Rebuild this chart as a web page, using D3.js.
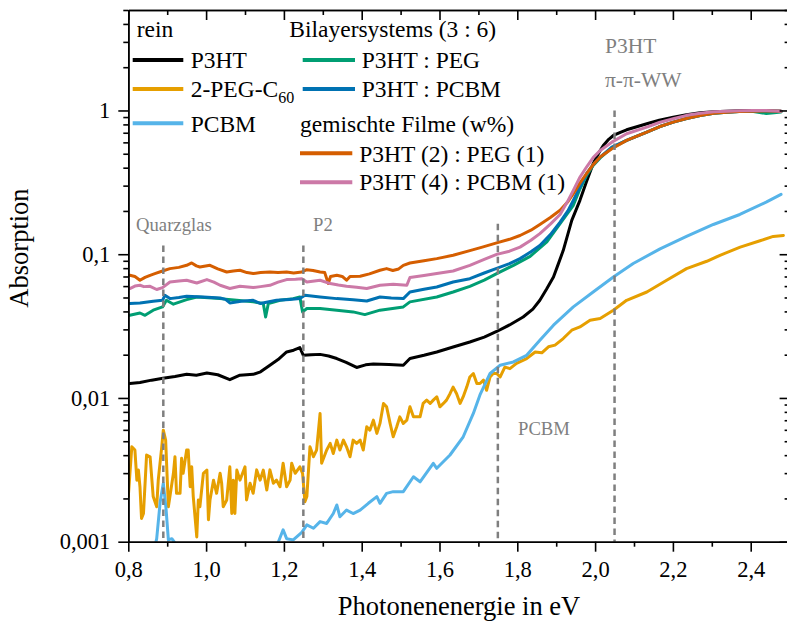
<!DOCTYPE html>
<html><head><meta charset="utf-8">
<script src="https://cdn.jsdelivr.net/npm/d3@7"></script>
<style>
body{margin:0;background:#fff}
svg text{font-family:"Liberation Serif","DejaVu Serif","Times New Roman",Times,serif !important}
</style>
</head><body>
<svg id="chart" width="787" height="626" font-family="Liberation Serif, DejaVu Serif, serif"></svg>
<script>
// ---------- data ----------
const xTickValues = [0.8,1.0,1.2,1.4,1.6,1.8,2.0,2.2,2.4];
const xTickLabels = ["0,8","1,0","1,2","1,4","1,6","1,8","2,0","2,2","2,4"];
const yTickValues = [1,0.1,0.01,0.001];
const yTickLabels = ["1","0,1","0,01","0,001"];

const p3ht = [[0.804,0.0126],[0.830,0.0128],[0.860,0.0133],[0.889,0.0137],[0.920,0.0141],[0.950,0.0146],[0.975,0.0144],[1.002,0.0149],[1.030,0.0145],[1.061,0.0134],[1.087,0.0144],[1.121,0.0146],[1.140,0.0152],[1.164,0.0169],[1.185,0.0185],[1.207,0.0209],[1.225,0.0215],[1.241,0.0224],[1.250,0.0198],[1.270,0.0200],[1.293,0.0201],[1.315,0.0196],[1.336,0.0188],[1.360,0.0177],[1.387,0.0163],[1.410,0.0170],[1.430,0.0172],[1.470,0.0171],[1.507,0.0169],[1.524,0.0188],[1.560,0.0198],[1.593,0.0209],[1.635,0.0226],[1.678,0.0245],[1.715,0.0265],[1.747,0.0290],[1.780,0.0322],[1.815,0.0366],[1.840,0.0415],[1.858,0.0478],[1.875,0.0570],[1.893,0.0695],[1.905,0.0850],[1.918,0.106],[1.930,0.138],[1.940,0.172],[1.961,0.237],[1.978,0.320],[1.995,0.426],[2.010,0.510],[2.021,0.571],[2.035,0.630],[2.047,0.670],[2.065,0.705],[2.081,0.734],[2.105,0.768],[2.133,0.809],[2.165,0.855],[2.201,0.898],[2.235,0.935],[2.270,0.964],[2.305,0.980],[2.338,0.989],[2.370,0.995],[2.407,1.0],[2.440,0.995],[2.478,0.989]];

const pegC60 = [[0.800,0.00206],[0.809,0.00457],[0.817,0.00434],[0.822,0.00268],[0.826,0.00315],[0.830,0.00241],[0.834,0.00145],[0.839,0.00157],[0.847,0.00401],[0.856,0.00390],[0.864,0.00206],[0.873,0.00175],[0.877,0.00268],[0.886,0.00457],[0.890,0.00597],[0.896,0.00509],[0.903,0.00175],[0.907,0.00206],[0.916,0.00299],[0.920,0.00390],[0.924,0.00217],[0.933,0.00217],[0.937,0.00380],[0.941,0.00299],[0.950,0.00434],[0.954,0.00434],[0.959,0.00241],[0.963,0.00332],[0.967,0.00206],[0.976,0.00108],[0.980,0.00195],[0.984,0.00175],[0.993,0.00299],[1.002,0.00315],[1.006,0.00142],[1.010,0.00195],[1.019,0.00268],[1.027,0.00217],[1.036,0.00299],[1.040,0.00255],[1.044,0.00175],[1.053,0.00195],[1.061,0.00332],[1.066,0.00157],[1.070,0.00268],[1.074,0.00157],[1.079,0.00315],[1.087,0.00268],[1.100,0.00332],[1.104,0.00195],[1.113,0.00255],[1.121,0.00217],[1.130,0.00316],[1.139,0.00268],[1.147,0.00315],[1.156,0.00229],[1.164,0.00316],[1.173,0.00255],[1.181,0.00268],[1.190,0.00241],[1.198,0.00351],[1.207,0.00241],[1.216,0.00268],[1.220,0.00351],[1.229,0.00299],[1.241,0.00332],[1.248,0.00299],[1.254,0.00190],[1.259,0.00206],[1.267,0.00457],[1.276,0.00390],[1.284,0.00434],[1.293,0.00780],[1.297,0.00351],[1.310,0.00434],[1.319,0.00483],[1.327,0.00411],[1.336,0.00509],[1.344,0.00434],[1.353,0.00509],[1.361,0.00457],[1.370,0.00390],[1.378,0.00509],[1.387,0.00483],[1.396,0.00509],[1.404,0.00434],[1.413,0.00630],[1.421,0.00597],[1.430,0.00701],[1.439,0.00567],[1.447,0.00665],[1.456,0.00916],[1.464,0.00868],[1.473,0.00665],[1.481,0.00537],[1.490,0.00630],[1.498,0.00739],[1.507,0.00665],[1.516,0.00701],[1.524,0.00868],[1.533,0.00739],[1.550,0.00739],[1.558,0.00916],[1.567,0.00966],[1.576,0.00916],[1.584,0.00966],[1.593,0.0102],[1.601,0.00868],[1.610,0.00916],[1.618,0.00966],[1.627,0.0107],[1.635,0.0119],[1.644,0.0107],[1.653,0.00916],[1.661,0.0102],[1.670,0.0119],[1.678,0.0140],[1.687,0.0148],[1.696,0.0126],[1.704,0.0126],[1.713,0.0133],[1.721,0.0113],[1.730,0.0140],[1.738,0.0148],[1.747,0.0148],[1.756,0.0140],[1.768,0.0164],[1.781,0.0160],[1.798,0.0174],[1.824,0.0188],[1.846,0.0209],[1.863,0.0206],[1.880,0.0227],[1.897,0.0233],[1.918,0.0259],[1.940,0.0296],[1.961,0.0312],[1.987,0.0347],[2.013,0.0357],[2.047,0.0408],[2.081,0.0478],[2.133,0.0546],[2.184,0.0659],[2.235,0.0794],[2.287,0.0893],[2.321,0.0983],[2.373,0.112],[2.424,0.124],[2.458,0.133],[2.484,0.135]];

const pcbmLow = [[0.858,0.0007],[0.873,0.00105],[0.882,0.0019],[0.890,0.00255],[0.897,0.0017],[0.903,0.00103],[0.912,0.00105],[0.920,0.00098],[0.926,0.0008]];
const pcbm = [[1.180,0.0008],[1.186,0.00100],[1.198,0.00121],[1.207,0.00105],[1.224,0.00103],[1.246,0.00116],[1.259,0.00131],[1.276,0.00124],[1.293,0.00138],[1.310,0.00134],[1.327,0.00157],[1.336,0.00180],[1.344,0.00149],[1.361,0.00166],[1.378,0.00157],[1.396,0.00166],[1.417,0.00185],[1.439,0.00206],[1.447,0.00185],[1.464,0.00217],[1.481,0.00223],[1.507,0.00223],[1.533,0.00283],[1.550,0.00261],[1.584,0.00351],[1.593,0.00324],[1.627,0.00401],[1.661,0.00537],[1.687,0.00780],[1.704,0.0105],[1.730,0.0148],[1.756,0.0169],[1.790,0.0178],[1.824,0.0198],[1.858,0.0252],[1.893,0.0321],[1.944,0.0430],[1.995,0.0546],[2.047,0.0695],[2.098,0.0861],[2.167,0.109],[2.235,0.133],[2.304,0.161],[2.372,0.189],[2.441,0.231],[2.478,0.261]];

const bilayerPEG = [[0.804,0.0376],[0.830,0.0390],[0.843,0.0376],[0.864,0.0408],[0.888,0.0430],[0.898,0.0478],[0.916,0.0449],[0.950,0.0483],[0.976,0.0504],[1.036,0.0491],[1.079,0.0478],[1.121,0.0466],[1.147,0.0454],[1.153,0.0366],[1.160,0.0454],[1.190,0.0478],[1.224,0.0491],[1.241,0.0504],[1.248,0.0397],[1.259,0.0419],[1.293,0.0419],[1.336,0.0408],[1.378,0.0397],[1.408,0.0380],[1.447,0.0408],[1.507,0.0430],[1.524,0.0466],[1.593,0.0504],[1.635,0.0546],[1.678,0.0598],[1.715,0.0660],[1.747,0.0733],[1.790,0.0837],[1.833,0.0967],[1.876,0.122],[1.910,0.163],[1.944,0.219],[1.960,0.280],[1.978,0.353],[1.995,0.415],[2.013,0.468],[2.043,0.549],[2.081,0.619],[2.133,0.707],[2.165,0.770],[2.201,0.829],[2.235,0.880],[2.270,0.923],[2.305,0.955],[2.338,0.973],[2.370,0.982],[2.407,0.984],[2.440,0.953],[2.460,0.965],[2.478,0.976]];

const bilayerPCBM = [[0.804,0.0454],[0.830,0.0458],[0.864,0.0471],[0.888,0.0478],[0.894,0.0518],[0.907,0.0491],[0.930,0.0500],[0.950,0.0510],[0.993,0.0504],[1.036,0.0496],[1.050,0.0485],[1.061,0.0458],[1.090,0.0470],[1.121,0.0478],[1.139,0.0454],[1.181,0.0478],[1.215,0.0485],[1.241,0.0491],[1.254,0.0518],[1.293,0.0504],[1.336,0.0491],[1.378,0.0483],[1.413,0.0473],[1.447,0.0504],[1.476,0.0495],[1.507,0.0491],[1.524,0.0546],[1.560,0.0570],[1.593,0.0592],[1.635,0.0641],[1.678,0.0676],[1.715,0.0740],[1.747,0.0798],[1.780,0.0860],[1.807,0.0932],[1.835,0.104],[1.858,0.115],[1.885,0.137],[1.910,0.167],[1.930,0.200],[1.944,0.237],[1.960,0.290],[1.978,0.363],[1.995,0.420],[2.013,0.474],[2.043,0.556],[2.081,0.619],[2.133,0.707],[2.165,0.770],[2.201,0.829],[2.235,0.880],[2.270,0.923],[2.305,0.955],[2.338,0.973],[2.370,0.983],[2.407,0.989],[2.440,0.992],[2.478,0.989]];

const mixPEG = [[0.804,0.0713],[0.817,0.0700],[0.830,0.0659],[0.843,0.0690],[0.856,0.0713],[0.870,0.0735],[0.888,0.0764],[0.907,0.0794],[0.930,0.0810],[0.950,0.0837],[0.963,0.0869],[0.975,0.0830],[0.984,0.0815],[1.010,0.0837],[1.030,0.0790],[1.053,0.0752],[1.070,0.0765],[1.087,0.0773],[1.105,0.0745],[1.121,0.0733],[1.140,0.0745],[1.164,0.0752],[1.185,0.0745],[1.207,0.0752],[1.225,0.0740],[1.246,0.0752],[1.259,0.0781],[1.275,0.0770],[1.293,0.0752],[1.305,0.0745],[1.314,0.0625],[1.320,0.0700],[1.336,0.0713],[1.350,0.0700],[1.361,0.0659],[1.370,0.0700],[1.396,0.0702],[1.420,0.0730],[1.447,0.0773],[1.464,0.0794],[1.480,0.0770],[1.495,0.0790],[1.507,0.0837],[1.524,0.0869],[1.560,0.0900],[1.593,0.0932],[1.635,0.0983],[1.678,0.106],[1.710,0.112],[1.747,0.120],[1.780,0.127],[1.807,0.135],[1.835,0.147],[1.858,0.161],[1.885,0.180],[1.910,0.202],[1.930,0.232],[1.944,0.264],[1.960,0.310],[1.978,0.363],[1.995,0.420],[2.013,0.474],[2.043,0.542],[2.081,0.619],[2.133,0.707],[2.165,0.770],[2.201,0.829],[2.235,0.880],[2.270,0.923],[2.305,0.955],[2.338,0.973],[2.370,0.985],[2.407,0.989],[2.440,0.992],[2.478,0.989]];

const mixPCBM = [[0.804,0.0577],[0.817,0.0600],[0.830,0.0608],[0.840,0.0595],[0.856,0.0598],[0.873,0.0568],[0.888,0.0586],[0.907,0.0641],[0.930,0.0650],[0.950,0.0659],[0.976,0.0631],[1.002,0.0666],[1.020,0.0640],[1.036,0.0608],[1.061,0.0577],[1.087,0.0598],[1.121,0.0586],[1.140,0.0595],[1.164,0.0608],[1.185,0.0640],[1.207,0.0666],[1.230,0.0670],[1.246,0.0676],[1.259,0.0641],[1.293,0.0659],[1.319,0.0625],[1.340,0.0610],[1.361,0.0598],[1.387,0.0590],[1.413,0.0577],[1.447,0.0608],[1.481,0.0618],[1.516,0.0608],[1.524,0.0688],[1.560,0.0710],[1.593,0.0733],[1.635,0.0764],[1.678,0.0837],[1.715,0.0920],[1.747,0.0998],[1.780,0.105],[1.807,0.112],[1.835,0.125],[1.858,0.139],[1.885,0.162],[1.910,0.189],[1.930,0.235],[1.944,0.278],[1.960,0.340],[1.978,0.404],[1.995,0.470],[2.013,0.527],[2.043,0.602],[2.081,0.689],[2.133,0.766],[2.165,0.825],[2.201,0.876],[2.235,0.925],[2.270,0.958],[2.305,0.978],[2.338,0.989],[2.370,0.996],[2.407,1.0],[2.440,0.998],[2.478,0.989]];

const seriesColors = {p3ht:"#000000", pegC60:"#e69f00", pcbm:"#56b4e9", bilayerPEG:"#009e73", bilayerPCBM:"#0072b2", mixPEG:"#d55e00", mixPCBM:"#cc79a7"};

// reference markers: energy and top value of the dashed line
const markerEnergies = [0.89, 1.25, 1.75, 2.05];
const markerTops = [0.115, 0.115, 0.163, 1.0];

// ---------- chart ----------
const FONT = "Liberation Serif, DejaVu Serif, Times New Roman, serif";
const svg = d3.select("#chart");
const x = d3.scaleLinear().domain([0.8, 2.5]).range([128.3, 789.6]);
const y = d3.scaleLog().domain([0.001, 5]).range([541.7, 10]);

svg.append("defs").append("clipPath").attr("id","plotclip")
  .append("rect").attr("x",128.3).attr("y",10).attr("width",661.3).attr("height",531.7);

const line = d3.line().x(d=>x(d[0])).y(d=>y(d[1])).curve(d3.curveLinear);
const plot = svg.append("g").attr("clip-path","url(#plotclip)");
const drawOrder = [["p3ht",p3ht],["pegC60",pegC60],["pcbm",pcbmLow],["pcbm",pcbm],["bilayerPEG",bilayerPEG],["bilayerPCBM",bilayerPCBM],["mixPEG",mixPEG],["mixPCBM",mixPCBM]];
drawOrder.forEach(([k,data])=>{
  plot.append("path").datum(data).attr("d",line)
    .attr("fill","none").attr("stroke",seriesColors[k]).attr("stroke-width",3)
    .attr("stroke-linejoin","round").attr("stroke-linecap","round");
});

// dashed markers
markerEnergies.forEach((e,i)=>{
  plot.append("line").attr("x1",x(e)).attr("x2",x(e))
    .attr("y1",y(markerTops[i])).attr("y2",y(0.001))
    .attr("stroke","#7f7f7f").attr("stroke-width",2.5).attr("stroke-dasharray","6.5,4.5");
});

// minor ticks
const yMinor = [];
[0.001,0.01,0.1,1].forEach(dec=>{ for(let m=2;m<=9;m++){ const v=m*dec; if(v<=5.0001) yMinor.push(v);} });
const xMinor = d3.range(0.9, 2.5, 0.2).map(v=>+v.toFixed(1));

function styleAxis(g){
  g.attr("font-family",FONT);
  g.selectAll("path.domain").attr("stroke","#000").attr("stroke-width",1.6);
  g.selectAll(".tick line").attr("stroke","#000").attr("stroke-width",1.6);
}

// bottom
const gB = svg.append("g").attr("transform",`translate(0,${y(0.001)})`)
  .call(d3.axisBottom(x).tickValues(xTickValues).tickFormat((d,i)=>xTickLabels[i]).tickSize(10).tickSizeOuter(0));
gB.selectAll("text").attr("y",35.3).attr("dy",0).attr("font-size","22.5px").attr("fill","#000").attr("font-family",FONT);
styleAxis(gB);
const gBm = svg.append("g").attr("transform",`translate(0,${y(0.001)})`)
  .call(d3.axisBottom(x).tickValues(xMinor).tickFormat("").tickSize(5).tickSizeOuter(0));
styleAxis(gBm);

// top
const gT = svg.append("g").attr("transform",`translate(0,${y(5)})`)
  .call(d3.axisBottom(x).tickValues(xTickValues).tickFormat("").tickSize(10).tickSizeOuter(0));
styleAxis(gT);
const gTm = svg.append("g").attr("transform",`translate(0,${y(5)})`)
  .call(d3.axisBottom(x).tickValues(xMinor).tickFormat("").tickSize(5).tickSizeOuter(0));
styleAxis(gTm);

// left
const gL = svg.append("g").attr("transform",`translate(${x(0.8)},0)`)
  .call(d3.axisLeft(y).tickValues(yTickValues).tickFormat((d,i)=>yTickLabels[i]).tickSize(10).tickSizeOuter(0).tickPadding(8));
gL.selectAll("text").attr("font-size","22.5px").attr("fill","#000").attr("font-family",FONT);
styleAxis(gL);
const gLm = svg.append("g").attr("transform",`translate(${x(0.8)},0)`)
  .call(d3.axisLeft(y).tickValues(yMinor).tickFormat("").tickSize(5).tickSizeOuter(0));
styleAxis(gLm);

// right
const gR = svg.append("g").attr("transform",`translate(${x(2.5)},0)`)
  .call(d3.axisLeft(y).tickValues(yTickValues).tickFormat("").tickSize(10).tickSizeOuter(0));
styleAxis(gR);
const gRm = svg.append("g").attr("transform",`translate(${x(2.5)},0)`)
  .call(d3.axisLeft(y).tickValues(yMinor).tickFormat("").tickSize(5).tickSizeOuter(0));
styleAxis(gRm);

// axis titles
svg.append("text").attr("x",459).attr("y",615).attr("text-anchor","middle").attr("font-family",FONT)
  .attr("font-size","26.5px").text("Photonenenergie in eV");
svg.append("text").attr("transform","translate(28,248) rotate(-90)").attr("text-anchor","middle").attr("font-family",FONT)
  .attr("font-size","26.5px").text("Absorption");

// annotations
const ann = svg.append("g").attr("fill","#7f7f7f").attr("font-family",FONT);
ann.append("text").attr("x",136).attr("y",231).attr("font-size","18.7px").text("Quarzglas");
ann.append("text").attr("x",313).attr("y",231).attr("font-size","18.7px").text("P2");
ann.append("text").attr("x",518).attr("y",435).attr("font-size","18.7px").text("PCBM");
ann.append("text").attr("x",605).attr("y",53.3).attr("font-size","21.5px").text("P3HT");
ann.append("text").attr("x",605).attr("y",86.7).attr("font-size","21.5px").text("π-π-WW");

// legend
const legFont = "23.5px";
const leg = svg.append("g").attr("font-family",FONT);
leg.append("text").attr("x",136.7).attr("y",36.7).attr("font-size",legFont).text("rein");
leg.append("text").attr("x",289.3).attr("y",36.7).attr("font-size",legFont).text("Bilayersystems (3 : 6)");
leg.append("text").attr("x",300).attr("y",131.7).attr("font-size",legFont).text("gemischte Filme (w%)");

const legendItems = [
  {key:"p3ht", x1:132.7, x2:183.3, ly:60, tx:190.7, ty:68.3, label:"P3HT"},
  {key:"pegC60", x1:132.7, x2:183.3, ly:89, tx:190.7, ty:97.3, label:"2-PEG-C", sub:"60"},
  {key:"pcbm", x1:132.7, x2:183.3, ly:123.3, tx:190.7, ty:131.7, label:"PCBM"},
  {key:"bilayerPEG", x1:302.7, x2:355, ly:60, tx:361.7, ty:68.3, label:"P3HT : PEG"},
  {key:"bilayerPCBM", x1:302.7, x2:355, ly:89, tx:361.7, ty:97.3, label:"P3HT : PCBM"},
  {key:"mixPEG", x1:300, x2:352.3, ly:153.3, tx:359.3, ty:161.7, label:"P3HT (2) : PEG (1)"},
  {key:"mixPCBM", x1:300, x2:352.3, ly:182.3, tx:359.3, ty:190, label:"P3HT (4) : PCBM (1)"}
];
legendItems.forEach(it=>{
  leg.append("line").attr("x1",it.x1).attr("x2",it.x2).attr("y1",it.ly).attr("y2",it.ly)
    .attr("stroke",seriesColors[it.key]).attr("stroke-width",4);
  const t = leg.append("text").attr("x",it.tx).attr("y",it.ty).attr("font-size",legFont).text(it.label);
  if(it.sub){ t.append("tspan").attr("font-size","16px").attr("dy",6).text(it.sub); }
});
</script>
</body></html>
